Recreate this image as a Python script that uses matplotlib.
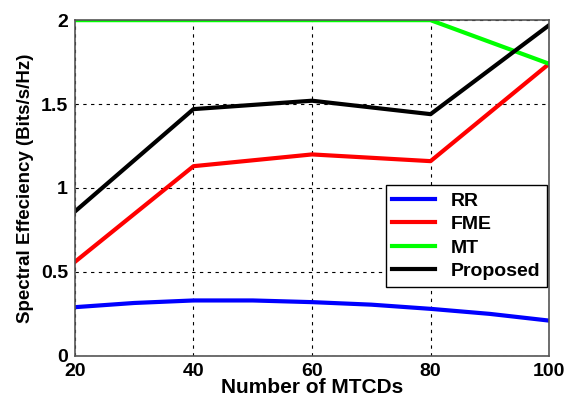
import matplotlib
matplotlib.use("Agg")
import matplotlib.pyplot as plt

plt.rcParams['font.family'] = ['Liberation Sans', 'DejaVu Sans']
plt.rcParams['font.weight'] = 'bold'

# data
x = [20, 40, 60, 80, 100]
x_rr = [20, 30, 40, 50, 60, 70, 80, 90, 100]
rr = [0.29, 0.315, 0.33, 0.33, 0.32, 0.305, 0.28, 0.25, 0.21]
fme = [0.56, 1.13, 1.20, 1.16, 1.74]
mt = [2.0, 2.0, 2.0, 2.0, 1.74]
proposed = [0.86, 1.47, 1.52, 1.44, 1.97]

fig = plt.figure(figsize=(5.72, 4.03), dpi=100)
ax = fig.add_axes([0.131, 0.117, 0.829, 0.833])

ax.plot(x_rr, rr, color='#0000ff', lw=3, label='RR')
ax.plot(x, fme, color='#ff0000', lw=3, label='FME')
ax.plot(x, mt, color='#00ff00', lw=3, label='MT')
ax.plot(x, proposed, color='black', lw=3, label='Proposed')

ax.set_xlim(20, 100)
ax.set_ylim(0, 2)
ax.set_xticks([20, 40, 60, 80, 100])
ax.set_yticks([0, 0.5, 1, 1.5, 2])
ax.set_yticklabels(['0', '0.5', '1', '1.5', '2'])
ax.grid(True, color='black', linestyle=(0, (3, 4)), linewidth=0.8)
ax.tick_params(labelsize=14, length=0, pad=5)
for s in ax.spines.values():
    s.set_color('#555555')
    s.set_linewidth(1.2)

ax.set_xlabel('Number of MTCDs', fontsize=15, fontweight='bold', labelpad=-1)
ax.set_ylabel('Spectral Effeciency (Bits/s/Hz)', fontsize=13.5, fontweight='bold', labelpad=5)

leg = ax.legend(loc='lower right', bbox_to_anchor=(1.0, 0.2), fontsize=14,
                fancybox=False, framealpha=1, edgecolor='black',
                handlelength=2.2, borderpad=0.35, labelspacing=0.3,
                borderaxespad=0.1)
leg.get_frame().set_linewidth(1.0)

fig.savefig('out.png', dpi=100)
